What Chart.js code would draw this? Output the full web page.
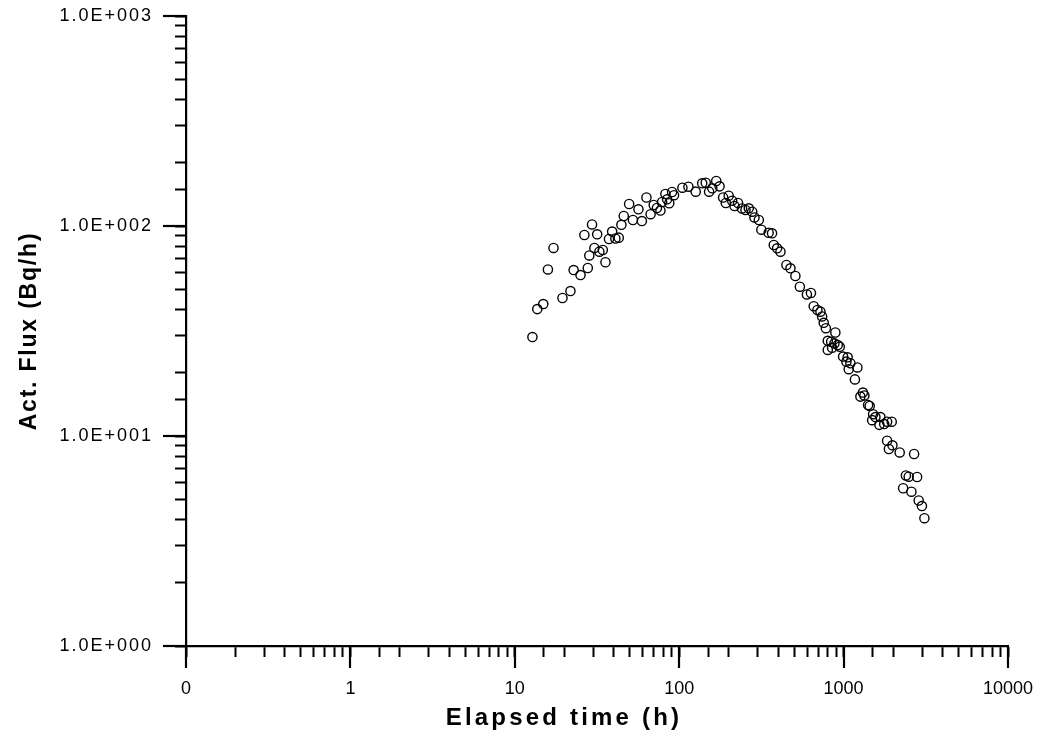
<!DOCTYPE html>
<html>
<head>
<meta charset="utf-8">
<script src="https://cdn.jsdelivr.net/npm/chart.js@4/dist/chart.umd.min.js"></script>
<style>
  html, body { margin: 0; padding: 0; background: #fff; }
  #wrap { width: 1044px; height: 741px; position: relative; }
</style>
</head>
<body>
<div id="wrap"><canvas id="myChart" width="1044" height="741"></canvas></div>
<script>
// data
const timeH = [12.8, 13.7, 14.9, 15.9, 17.2, 19.5, 21.8, 22.8, 25.1, 26.5,
  27.8, 28.4, 29.5, 30.5, 31.7, 32.7, 34.3, 35.6, 37.4, 39.1,
  40.9, 42.9, 44.5, 46.0, 49.6, 52.3, 56.5, 59.3, 63.2, 67.0,
  70.0, 73.2, 76.9, 78.7, 82.4, 84.4, 87.0, 90.5, 93.0, 104.6,
  113.8, 126, 138, 145, 152, 159, 168, 176, 185, 192,
  200, 210, 217, 228, 241, 253, 265, 278, 287, 305,
  316, 350, 367, 376, 394, 413, 449, 475, 509, 542,
  598, 633, 658, 693, 723, 740, 757, 780, 891, 801,
  840, 879, 921, 801, 851, 947, 993, 1059, 1040, 1100,
  1074, 1213, 1172, 1310, 1265, 1338, 1409, 1441, 1512, 1561,
  1491, 1674, 1651, 1766, 1839, 1962, 1839, 1886, 1981, 2194,
  2684, 2393, 2489, 2800, 2301, 2585, 2863, 2995, 3101];
const fluxBq = [29.6, 40.2, 42.5, 62.1, 78.6, 45.4, 49.0, 61.7, 58.4, 90.6,
  63.1, 72.4, 101.7, 78.6, 91.3, 75.5, 76.9, 67.2, 86.7, 94.1,
  87.2, 88.0, 101.3, 111.6, 127.3, 106.8, 120.1, 105.6, 136.7, 113.8,
  125.9, 121.8, 118.5, 130.1, 142.0, 134.0, 128.3, 145.2, 140.2, 152.2,
  153.9, 145.7, 159.7, 160.8, 145.7, 151.2, 163.8, 154.5, 136.7, 128.7,
  139.4, 132.0, 124.5, 128.7, 121.2, 119.2, 121.4, 117.0, 109.8, 106.8,
  96.0, 92.9, 92.3, 81.2, 78.3, 75.5, 65.2, 62.9, 57.8, 51.4,
  47.2, 48.0, 41.5, 39.8, 39.1, 37.1, 34.6, 32.6, 31.1, 28.4,
  28.1, 27.6, 27.1, 25.7, 26.3, 26.6, 23.9, 23.7, 22.6, 22.2,
  20.8, 21.2, 18.6, 16.1, 15.4, 15.6, 14.05, 13.9, 12.7, 12.3,
  11.9, 12.3, 11.3, 11.4, 11.7, 11.7, 9.50, 8.67, 9.03, 8.35,
  8.21, 6.49, 6.40, 6.38, 5.64, 5.43, 4.93, 4.64, 4.06];

const xDecades = [0.1, 1, 10, 100, 1000, 10000];
const xTickLabels = ['0', '1', '10', '100', '1000', '10000'];
const yDecades = [1, 10, 100, 1000];
const yTickLabels = ['1.0E+000', '1.0E+001', '1.0E+002', '1.0E+003'];

const FONT = "'Liberation Sans', Arial, Helvetica, sans-serif";

let points = timeH.map((t, i) => ({ x: t, y: fluxBq[i] }));

let decadeIndex = (list, v) => list.findIndex(d => Math.abs(Math.log10(v) - Math.log10(d)) < 1e-6);

// y labels are spaced wider than x labels in the original
const spacing = {
  id: 'spacing',
  beforeDraw(chart) { chart.ctx.letterSpacing = '0px'; },
  afterDatasetsDraw(chart) { chart.ctx.letterSpacing = '2px'; }
};

// long decade ticks + axis titles
const extras = {
  id: 'extras',
  afterDraw(chart) {
    const ctx = chart.ctx;
    const xs = chart.scales.x, ys = chart.scales.y;
    const area = chart.chartArea;
    ctx.save();
    ctx.strokeStyle = '#000';
    ctx.lineWidth = 2.2;
    xDecades.forEach(d => {
      const px = Math.round(xs.getPixelForValue(d));
      ctx.beginPath();
      ctx.moveTo(px, area.bottom);
      ctx.lineTo(px, area.bottom + 22);
      ctx.stroke();
    });
    yDecades.forEach(d => {
      const py = Math.round(ys.getPixelForValue(d));
      ctx.beginPath();
      ctx.moveTo(area.left, py);
      ctx.lineTo(area.left - 23, py);
      ctx.stroke();
    });

    ctx.fillStyle = '#000';
    ctx.textAlign = 'center';
    ctx.textBaseline = 'middle';
    ctx.font = 'bold 24px ' + FONT;
    ctx.letterSpacing = '3.2px';
    ctx.fillText('Elapsed time (h)', 564, 718);

    ctx.font = 'bold 23px ' + FONT;
    ctx.letterSpacing = '1.8px';
    ctx.translate(30, (area.top + area.bottom) / 2);
    ctx.rotate(-Math.PI / 2);
    ctx.fillText('Act. Flux (Bq/h)', 0, 0);
    ctx.restore();
    ctx.letterSpacing = '0px';
  }
};

const config = {
  type: 'scatter',
  data: {
    datasets: [{
      label: 'Act. Flux',
      data: points,
      pointStyle: 'circle',
      pointRadius: 4.6,
      pointBorderWidth: 1.4,
      borderColor: '#000',
      backgroundColor: 'rgba(0,0,0,0)',
      showLine: false
    }]
  },
  plugins: [spacing, extras],
  options: {
    responsive: false,
    animation: false,
    layout: { padding: { top: 16, right: 36, left: 0, bottom: 0 } },
    plugins: {
      legend: { display: false },
      tooltip: { enabled: false }
    },
    scales: {
      x: {
        type: 'logarithmic',
        min: 0.1,
        max: 10000,
        afterFit: (scale) => {
          scale.height = 95;
          scale.paddingLeft = 0;
          scale.paddingRight = 0;
        },
        border: { display: true, color: '#000', width: 2.2 },
        grid: { drawOnChartArea: false, drawTicks: true, tickLength: 11, tickColor: '#000', tickWidth: 2 },
        ticks: {
          autoSkip: false,
          maxRotation: 0,
          padding: 21,
          color: '#000',
          font: { family: FONT, size: 18 },
          callback: (v) => {
            const i = decadeIndex(xDecades, v);
            return i >= 0 ? xTickLabels[i] : '';
          }
        }
      },
      y: {
        type: 'logarithmic',
        min: 1,
        max: 1000,
        afterFit: (scale) => {
          scale.width = 186;
          scale.paddingTop = 0;
          scale.paddingBottom = 0;
        },
        border: { display: true, color: '#000', width: 2.2 },
        grid: { drawOnChartArea: false, drawTicks: true, tickLength: 11, tickColor: '#000', tickWidth: 2 },
        ticks: {
          autoSkip: false,
          padding: 22,
          z: 1,
          color: '#000',
          font: { family: FONT, size: 18 },
          callback: (v) => {
            const i = decadeIndex(yDecades, v);
            return i >= 0 ? yTickLabels[i] : '';
          }
        }
      }
    }
  }
};

const myChart = new Chart(document.getElementById('myChart'), config);
</script>
</body>
</html>
